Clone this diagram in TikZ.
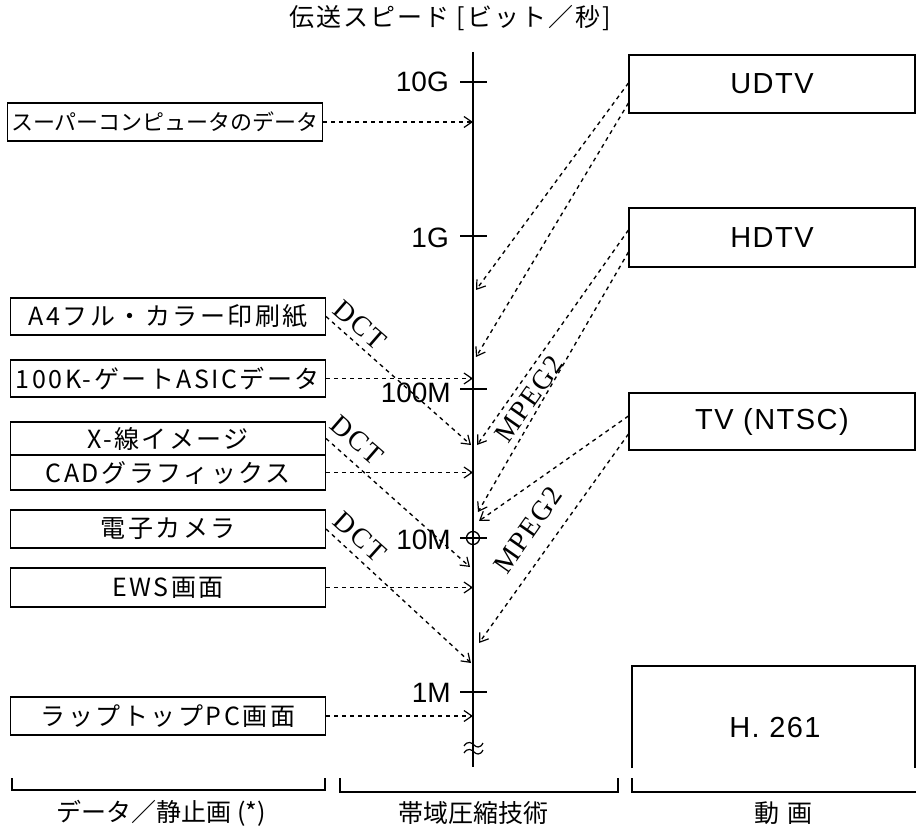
\documentclass[tikz,border=0pt]{standalone}
\usepackage{fontspec}
\newfontfamily\jp{Noto Sans CJK JP}
\newfontfamily\jpw[LetterSpace=10]{Noto Sans CJK JP}
\newfontfamily\jpt[LetterSpace=8]{Noto Sans CJK JP}
\newfontfamily\lat{Liberation Sans}
\newfontfamily\latw[LetterSpace=5]{Liberation Sans}
\newfontfamily\ser[LetterSpace=6]{Liberation Serif}
\usetikzlibrary{arrows.meta,calc}
\tikzset{
  dbox/.style={draw, line width=1.1pt, inner sep=0pt, minimum width=315pt, font=\jpw\fontsize{25}{25}\selectfont},
  vbox/.style={draw, line width=1.1pt, inner sep=0pt, minimum width=286pt, font=\latw\fontsize{29}{29}\selectfont},
  flow/.style={line width=1.35pt, dash pattern=on 4pt off 4pt, -{Straight Barb[length=8pt,width=11pt,line width=1.2pt]}},
  axlab/.style={anchor=east, inner sep=0pt, font=\lat\fontsize{28}{28}\selectfont},
  methlab/.style={inner sep=0pt, font=\ser\fontsize{28}{28}\selectfont},
  caplab/.style={inner sep=0pt, font=\jp\fontsize{25}{25}\selectfont},
  axtick/.style={line width=1.3pt},
  frame/.style={line width=1.1pt}
}
\begin{document}
\begin{tikzpicture}[x=1pt,y=-1pt]
\useasboundingbox (0,0) rectangle (916,826);
% title
\node[caplab, font=\jpt\fontsize{25}{25}\selectfont] (title) at (450,18) {伝送スピード [ビット／秒]};
% axis
\coordinate (axtop) at (473,52);
\coordinate (axbot) at (473,767);
\draw[line width=1.4pt] (axtop) -- (axbot);
\draw[axtick] (460,82) -- (487,82);
\draw[axtick] (460,236) -- (487,236);
\draw[axtick] (460,389) -- (487,389);
\draw[axtick] (460,538) -- (487,538);
\draw[axtick] (460,692) -- (487,692);
\draw[axtick] (473,538) circle (6.5pt);
\node[axlab] (l10g) at (449,82) {10G};
\node[axlab] (l1g) at (449,238) {1G};
\node[axlab] (l100m) at (451,393) {100M};
\node[axlab] (l10m) at (451,540) {10M};
\node[axlab] (l1m) at (451,693) {1M};
% break mark on the axis
\draw[line width=1.2pt] (464,746) .. controls (468,740) and (472,743) .. (474,745) .. controls (476,747) and (480,749) .. (483,743);
\draw[line width=1.2pt] (464,753) .. controls (468,747) and (472,750) .. (474,752) .. controls (476,754) and (480,756) .. (483,750);
% data boxes
\node[dbox, minimum height=38pt, font=\jp\fontsize{22}{22}\selectfont] (sup) at (165,122) {スーパーコンピュータのデータ};
\node[dbox, minimum height=37pt] (a4) at (168,316.5) {A4フル・カラー印刷紙};
\node[dbox, minimum height=37pt] (asic) at (168,378.5) {100K-ゲートASICデータ};
\node[dbox, minimum height=33pt] (xray) at (168,438.5) {X-線イメージ};
\node[dbox, minimum height=35pt] (cad) at (168,472.5) {CADグラフィックス};
\node[dbox, minimum height=38pt] (cam) at (168,529) {電子カメラ};
\node[dbox, minimum height=39pt] (ews) at (168,587.5) {EWS画面};
\node[dbox, minimum height=38pt] (lap) at (168,716) {ラップトップPC画面};
% video boxes
\node[vbox, minimum height=58pt] (udtv) at (772,84) {UDTV};
\node[vbox, minimum height=59pt] (hdtv) at (772,237.5) {HDTV};
\node[vbox, minimum height=57pt] (tv) at (772,421.5) {TV (NTSC)};
\draw[frame] (632,768) -- (632,666) -- (915,666) -- (915,768);
\node[inner sep=0pt, font=\latw\fontsize{29}{29}\selectfont] (h261) at (775,728) {H. 261};
% horizontal arrows
\draw[flow] (sup.east) -- (sup.east -| axtop);
\draw[flow] (asic.east) -- (asic.east -| axtop);
\draw[flow] (cad.east) -- (cad.east -| axtop);
\draw[flow] (ews.east) -- (ews.east -| axtop);
\draw[flow] (lap.east) -- (lap.east -| axtop);
% DCT arrows
\coordinate (d1) at (471,445);
\coordinate (d2) at (470,567);
\coordinate (d3) at (471,663);
\draw[flow] (a4.east) -- (d1);
\draw[flow] (xray.east) -- (d2);
\draw[flow] (cam.east) -- (d3);
\node[methlab, rotate=-41] (dct1) at (360,325) {DCT};
\node[methlab, rotate=-41] (dct2) at (357,440) {DCT};
\node[methlab, rotate=-42] (dct3) at (360,537) {DCT};
% MPEG2 arrows
\coordinate (u1) at (476,290);
\coordinate (u2) at (476,357);
\coordinate (h1) at (477,445);
\coordinate (h2) at (478,512);
\coordinate (v1) at (479,521);
\coordinate (v2) at (479,643);
\draw[flow] ([yshift=1pt]udtv.west) -- (u1);
\draw[flow] ([yshift=-19pt]udtv.west) -- (u2);
\draw[flow] ([yshift=7.5pt]hdtv.west) -- (h1);
\draw[flow] ([yshift=-14.5pt]hdtv.west) -- (h2);
\draw[flow] ([yshift=5.5pt]tv.west) -- (v1);
\draw[flow] ([yshift=-12.5pt]tv.west) -- (v2);
\node[methlab, rotate=55] (mp1) at (529,399) {MPEG2};
\node[methlab, rotate=55] (mp2) at (528,530) {MPEG2};
% brackets
\draw[frame] (12,778) -- (12,790) -- (325,790) -- (325,778);
\draw[frame] (340,778) -- (340,792) -- (618,792) -- (618,778);
\draw[frame] (632,778) -- (632,792) -- (916,792);
\node[caplab] (cdata) at (161,813) {データ／静止画 (*)};
\node[caplab] (ctech) at (473,813) {帯域圧縮技術};
\node[caplab] (cvid) at (783,813) {動\hspace{8pt}画};
\end{tikzpicture}
\end{document}
